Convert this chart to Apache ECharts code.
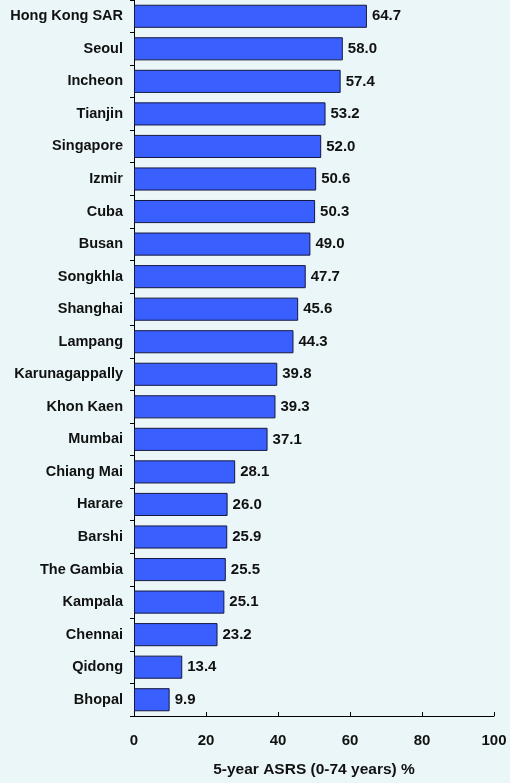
<!DOCTYPE html>
<html>
<head>
<meta charset="utf-8">
<script src="https://cdn.jsdelivr.net/npm/echarts@6/dist/echarts.min.js"></script>
<style>
  html, body { margin: 0; padding: 0; background: #eaf6f7; }
  #chart { width: 510px; height: 783px; }
</style>
</head>
<body>
<div id="chart"></div>
<script>
const cities = [
  'Hong Kong SAR', 'Seoul', 'Incheon', 'Tianjin', 'Singapore', 'Izmir', 'Cuba',
  'Busan', 'Songkhla', 'Shanghai', 'Lampang', 'Karunagappally', 'Khon Kaen',
  'Mumbai', 'Chiang Mai', 'Harare', 'Barshi', 'The Gambia', 'Kampala',
  'Chennai', 'Qidong', 'Bhopal'
];
const survival = [
  64.7, 58.0, 57.4, 53.2, 52.0, 50.6, 50.3, 49.0, 47.7, 45.6, 44.3, 39.8,
  39.3, 37.1, 28.1, 26.0, 25.9, 25.5, 25.1, 23.2, 13.4, 9.9
];
const xTicks = [0, 20, 40, 60, 80, 100];

const chart = echarts.init(document.getElementById('chart'));
const font = 'Liberation Sans, Arial, sans-serif';

chart.setOption({
  backgroundColor: '#eaf6f7',
  animation: false,
  grid: { top: 0, bottom: 65, left: 134, right: 16 },
  xAxis: {
    type: 'value',
    min: xTicks[0],
    max: xTicks[xTicks.length - 1],
    interval: 20,
    name: '5-year ASRS (0-74 years) %',
    nameLocation: 'middle',
    nameGap: 46,
    nameTextStyle: { color: '#111', fontSize: 15.5, fontWeight: 'bold', fontFamily: font },
    axisLine: { show: true, lineStyle: { color: '#000', width: 1 } },
    axisTick: { show: true, inside: true, length: 4, lineStyle: { color: '#000' } },
    axisLabel: { color: '#111', fontSize: 15, fontWeight: 'bold', fontFamily: font, margin: 17 },
    splitLine: { show: false }
  },
  yAxis: {
    type: 'category',
    data: cities,
    inverse: true,
    axisLine: { show: true, lineStyle: { color: '#000', width: 1 } },
    axisTick: { show: true, length: 4, lineStyle: { color: '#000' } },
    axisLabel: { color: '#111', fontSize: 14.5, fontWeight: 'bold', fontFamily: font, margin: 11 }
  },
  series: [{
    type: 'bar',
    data: survival,
    barWidth: '71%',
    itemStyle: { color: '#3a5fff', borderColor: '#151840', borderWidth: 1 },
    label: {
      show: true,
      position: 'right',
      distance: 5,
      formatter: p => p.value.toFixed(1),
      color: '#111',
      fontSize: 15,
      fontWeight: 'bold',
      fontFamily: font
    }
  }]
});
</script>
</body>
</html>
